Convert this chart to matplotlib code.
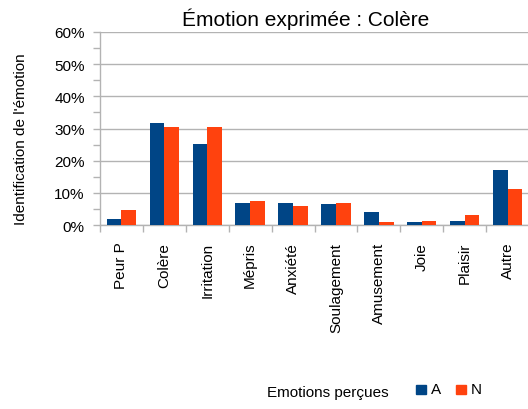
import matplotlib
matplotlib.use("Agg")
import matplotlib.pyplot as plt
import numpy as np
from matplotlib.ticker import FuncFormatter, MultipleLocator, FixedLocator
from matplotlib.patches import Rectangle

plt.rcParams['font.family'] = ['Liberation Sans', 'DejaVu Sans']

categories = ["Peur P", "Colère", "Irritation", "Mépris", "Anxiété",
              "Soulagement", "Amusement", "Joie", "Plaisir", "Autre"]
series_A = [1.8, 31.8, 25.1, 6.9, 6.9, 6.4, 4.1, 0.9, 1.3, 17.0]
series_N = [4.6, 30.4, 30.4, 7.6, 6.0, 6.8, 0.8, 1.3, 3.2, 11.2]
col_A = "#004586"
col_N = "#ff420e"
grid_col = "#b3b3b3"

W, H = 528, 410
fig = plt.figure(figsize=(W / 100, H / 100), dpi=100)
ax = fig.add_axes([100 / W, 1 - 226 / H, 429 / W, (226 - 33) / H])

x = np.arange(len(categories))
bw = 0.342
ax.bar(x - bw / 2, series_A, width=bw, color=col_A, zorder=3)
ax.bar(x + bw / 2, series_N, width=bw, color=col_N, zorder=3)

ax.set_xlim(-0.5, len(categories) - 0.5)
ax.set_ylim(0, 60)
ax.yaxis.set_major_locator(MultipleLocator(10))
ax.yaxis.set_minor_locator(MultipleLocator(5))
ax.yaxis.set_major_formatter(FuncFormatter(lambda v, p: f"{int(v)}%"))
ax.grid(axis='y', which='major', color=grid_col, linewidth=1, zorder=0)

ax.set_xticks(x)
ax.set_xticklabels(categories, rotation=90, fontsize=11, color="#000000")
ax.xaxis.set_minor_locator(FixedLocator(np.arange(-0.5, len(categories), 1.0)))
ax.tick_params(axis='x', which='major', length=0, pad=12)
ax.tick_params(axis='x', which='minor', length=5, color=grid_col, width=1)
ax.tick_params(axis='y', which='both', length=5, color=grid_col, width=1,
               labelsize=11, pad=6)

for s in ['top', 'right']:
    ax.spines[s].set_visible(False)
for s in ['left', 'bottom']:
    ax.spines[s].set_color(grid_col)
    ax.spines[s].set_linewidth(1)

fig.text(306 / W, 1 - 19 / H, "Émotion exprimée : Colère", fontsize=15,
         ha='center', va='center')
fig.text(21 / W, 1 - 139 / H, "Identification de l'émotion", fontsize=11,
         rotation=90, ha='center', va='center')

fig.text(267 / W, 1 - 393 / H, "Emotions perçues", fontsize=11,
         ha='left', va='center')
for xs, col, lab in [(416, col_A, "A"), (456, col_N, "N")]:
    fig.patches.append(Rectangle((xs / W, 1 - 395 / H), 10 / W, 9 / H,
                                 transform=fig.transFigure, color=col))
    fig.text((xs + 15) / W, 1 - 390 / H, lab, fontsize=11, ha='left', va='center')

fig.savefig("out.png", dpi=100)
